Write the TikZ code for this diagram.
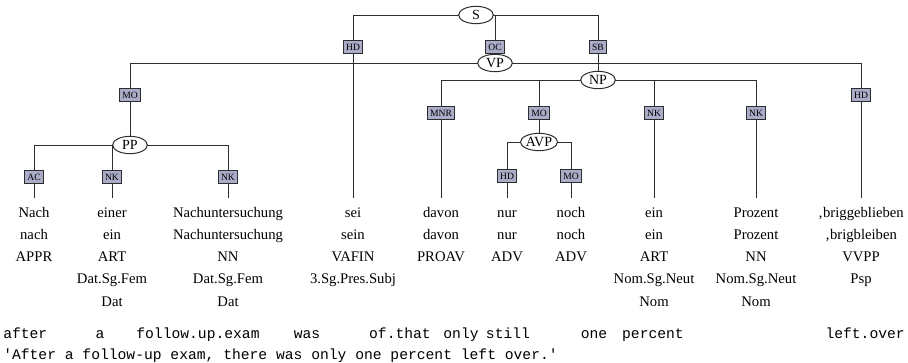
\documentclass[tikz,border=0pt]{standalone}
\usepackage{fontspec}
\setmainfont{Liberation Serif}
\setmonofont{Liberation Mono}
\usetikzlibrary{shapes.geometric,backgrounds}
\definecolor{lab}{RGB}{170,172,200}
\definecolor{ln}{RGB}{45,45,45}
\tikzset{
  cat/.style={ellipse,draw=ln,fill=white,line width=0.75pt,inner sep=0pt,
    minimum width=26pt,minimum height=13pt,font=\fontsize{10.5}{12}\selectfont},
  lbl/.style={rectangle,draw=ln,fill=lab,line width=0.7pt,inner xsep=2pt,inner ysep=0pt,
    minimum height=9.5pt,text height=5pt,text depth=0pt,font=\fontsize{7.2}{8}\selectfont},
  edge/.style={draw=ln,line width=0.75pt},
  wd/.style={anchor=base,inner sep=0pt,font=\fontsize{11}{12}\selectfont},
  wtop/.style={wd,text height=14.25pt},
  gl/.style={anchor=base,inner sep=0pt,font=\ttfamily\fontsize{11}{12}\selectfont},
}
\begin{document}
\begin{tikzpicture}[x=0.75pt,y=-0.75pt]
\useasboundingbox (0,0) rectangle (908,362);
% category nodes
\node[cat] (S) at (476,15) {S};
\node[cat] (VP) at (495,63) {VP};
\node[cat] (NP) at (598,80) {NP};
\node[cat] (AVP) at (539,142) {AVP};
\node[cat] (PP) at (130,145) {PP};
% words
\node[wtop] (w1) at (34,217) {Nach};
\node[wtop] (w2) at (112,217) {einer};
\node[wtop] (w3) at (228,217) {Nachuntersuchung};
\node[wtop] (w4) at (353,217) {sei};
\node[wtop] (w5) at (441,217) {davon};
\node[wtop] (w6) at (507,217) {nur};
\node[wtop] (w7) at (571,217) {noch};
\node[wtop] (w8) at (654,217) {ein};
\node[wtop] (w9) at (756,217) {Prozent};
\node[wtop] (w10) at (861,217) {‚briggeblieben};
% lemmas
\node[wd] (m1) at (34,239.3) {nach};
\node[wd] (m2) at (112,239.3) {ein};
\node[wd] (m3) at (228,239.3) {Nachuntersuchung};
\node[wd] (m4) at (353,239.3) {sein};
\node[wd] (m5) at (441,239.3) {davon};
\node[wd] (m6) at (507,239.3) {nur};
\node[wd] (m7) at (571,239.3) {noch};
\node[wd] (m8) at (654,239.3) {ein};
\node[wd] (m9) at (756,239.3) {Prozent};
\node[wd] (m10) at (861,239.3) {‚brigbleiben};
% POS
\node[wd] (p1) at (34,261.6) {APPR};
\node[wd] (p2) at (112,261.6) {ART};
\node[wd] (p3) at (228,261.6) {NN};
\node[wd] (p4) at (353,261.6) {VAFIN};
\node[wd] (p5) at (441,261.6) {PROAV};
\node[wd] (p6) at (507,261.6) {ADV};
\node[wd] (p7) at (571,261.6) {ADV};
\node[wd] (p8) at (654,261.6) {ART};
\node[wd] (p9) at (756,261.6) {NN};
\node[wd] (p10) at (861,261.6) {VVPP};
% morphology
\node[wd] (f2) at (112,283.9) {Dat.Sg.Fem};
\node[wd] (f3) at (228,283.9) {Dat.Sg.Fem};
\node[wd] (f4) at (353,283.9) {3.Sg.Pres.Subj};
\node[wd] (f8) at (654,283.9) {Nom.Sg.Neut};
\node[wd] (f9) at (756,283.9) {Nom.Sg.Neut};
\node[wd] (f10) at (861,283.9) {Psp};
% case
\node[wd] (c2) at (112,306.2) {Dat};
\node[wd] (c3) at (228,306.2) {Dat};
\node[wd] (c8) at (654,306.2) {Nom};
\node[wd] (c9) at (756,306.2) {Nom};
% gloss
\node[gl,anchor=base west] (g1) at (3,338) {after};
\node[gl] (g2) at (100,338) {a};
\node[gl] (g3) at (198,338) {follow.up.exam};
\node[gl] (g4) at (307,338) {was};
\node[gl] (g5) at (400,338) {of.that};
\node[gl] (g6) at (461,338) {only};
\node[gl] (g7) at (508,338) {still};
\node[gl] (g8) at (594,338) {one};
\node[gl] (g9) at (653,338) {percent};
\node[gl,anchor=base east] (g10) at (905,338) {left.over};
\node[gl,anchor=base west] (tr) at (3,359) {'After a follow-up exam, there was only one percent left over.'};
% edge labels
\node[lbl] (eHDs) at (353,47) {HD};
\node[lbl] (eOC) at (495,47) {OC};
\node[lbl] (eSB) at (598,47) {SB};
\node[lbl] (eMOvp) at (130,95) {MO};
\node[lbl] (eHDvp) at (861,95) {HD};
\node[lbl] (eMNR) at (441,113) {MNR};
\node[lbl] (eMOnp) at (539,113) {MO};
\node[lbl] (eNK1) at (654,113) {NK};
\node[lbl] (eNK2) at (756,113) {NK};
\node[lbl] (eHDavp) at (507,176) {HD};
\node[lbl] (eMOavp) at (571,176) {MO};
\node[lbl] (eAC) at (34,177) {AC};
\node[lbl] (eNK3) at (112,177) {NK};
\node[lbl] (eNK4) at (228,177) {NK};
% edges
\begin{scope}[on background layer]
\draw[edge] (S.center) -| (w4.north);
\draw[edge] (S.center) -| (VP.north);
\draw[edge] (S.center) -| (NP.north);
\draw[edge] (VP.center) -| (PP.north);
\draw[edge] (VP.center) -| (w10.north);
\draw[edge] (NP.center) -| (w5.north);
\draw[edge] (NP.center) -| (AVP.north);
\draw[edge] (NP.center) -| (w8.north);
\draw[edge] (NP.center) -| (w9.north);
\draw[edge] (AVP.center) -| (w6.north);
\draw[edge] (AVP.center) -| (w7.north);
\draw[edge] (PP.center) -| (w1.north);
\draw[edge] (PP.center) -| (w2.north);
\draw[edge] (PP.center) -| (w3.north);
\end{scope}
\end{tikzpicture}
\end{document}
